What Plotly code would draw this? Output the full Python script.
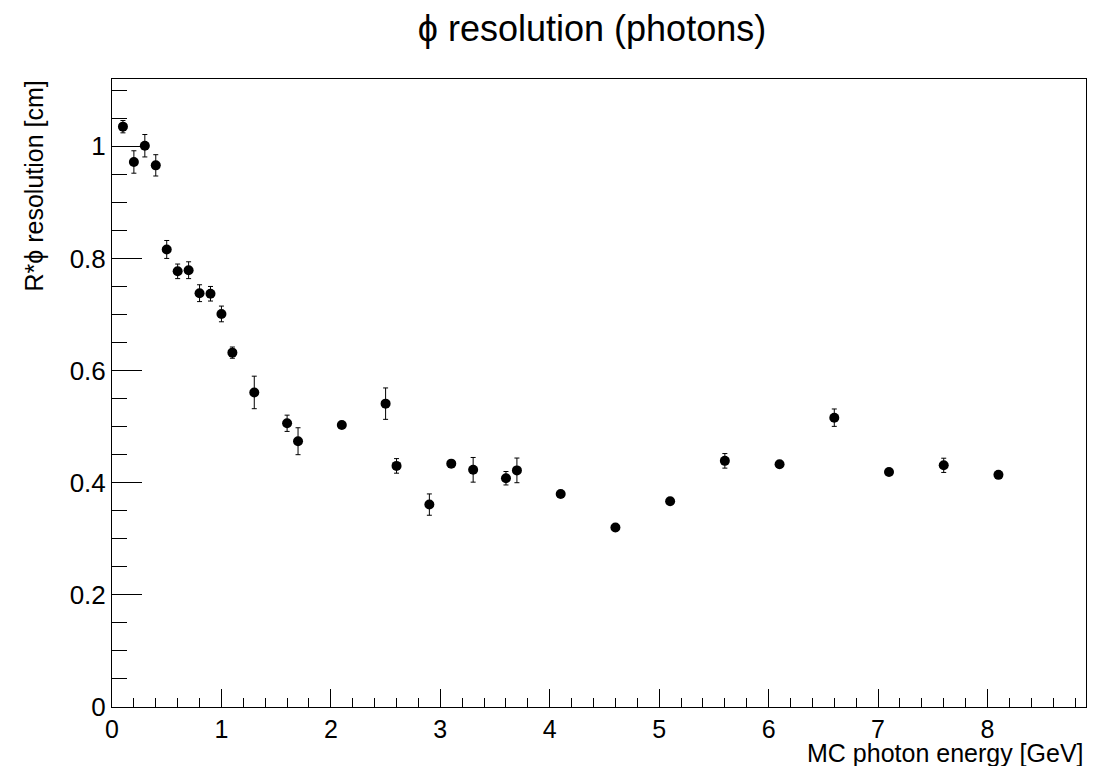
import plotly.graph_objects as go

energy = [0.1, 0.2, 0.3, 0.4, 0.5, 0.6, 0.7, 0.8, 0.9, 1.0, 1.1, 1.3, 1.6, 1.7,
          2.1, 2.5, 2.6, 2.9, 3.1, 3.3, 3.6, 3.7, 4.1, 4.6, 5.1, 5.6, 6.1, 6.6,
          7.1, 7.6, 8.1]
resolution = [1.035, 0.972, 1.001, 0.966, 0.816, 0.777, 0.779, 0.738, 0.737,
              0.701, 0.632, 0.561, 0.506, 0.474, 0.503, 0.541, 0.430, 0.361,
              0.434, 0.423, 0.408, 0.422, 0.380, 0.320, 0.367, 0.439, 0.433,
              0.516, 0.419, 0.431, 0.414]
resolution_err = [0.011, 0.020, 0.020, 0.019, 0.016, 0.013, 0.015, 0.015, 0.013,
                  0.014, 0.010, 0.029, 0.0145, 0.024, 0.004, 0.028, 0.013, 0.019,
                  0.004, 0.022, 0.012, 0.022, 0.004, 0.006, 0.004, 0.013, 0.004,
                  0.0155, 0.004, 0.0127, 0.004]

FONT = "Liberation Sans, Arial, Helvetica, sans-serif"

fig = go.Figure()
fig.add_trace(go.Scatter(
    x=energy, y=resolution, mode="markers",
    marker=dict(symbol="circle", size=10, color="black"),
    error_y=dict(type="data", array=resolution_err, visible=True,
                 color="black", thickness=1, width=2.5),
    showlegend=False,
))

# page has an 8px body margin; figure sized to fit inside the window
W, H = 1095, 758
L, R, T, B = 104, 17, 71, 59
PW, PH = W - L - R, H - T - B

fig.update_layout(
    width=W, height=H,
    margin=dict(l=L, r=R, t=T, b=B, autoexpand=False),
    paper_bgcolor="white", plot_bgcolor="white",
    font=dict(family=FONT, size=25, color="black"),
    title=dict(text="ϕ resolution (photons)", x=584 / W, xanchor="center",
               y=1 - 20 / H, yanchor="middle", yref="container",
               font=dict(family=FONT, size=36, color="black")),
    xaxis=dict(range=[0, 8.9], dtick=1, tick0=0, ticks="inside", ticklen=18,
               tickcolor="black", showline=True, linecolor="black",
               linewidth=1, mirror=True, showgrid=False, zeroline=False,
               tickfont=dict(size=25),
               minor=dict(dtick=0.2, tick0=0, ticks="inside", ticklen=9,
                          tickcolor="black", showgrid=False)),
    yaxis=dict(range=[0, 1.12], dtick=0.2, tick0=0, ticks="inside", ticklen=30,
               tickcolor="black", showline=True, linecolor="black",
               linewidth=1, mirror=True, showgrid=False, zeroline=False,
               tickfont=dict(size=26), tickformat="~g",
               minor=dict(dtick=0.05, tick0=0, ticks="inside", ticklen=15,
                          tickcolor="black", showgrid=False)),
    annotations=[
        dict(text="MC photon energy [GeV]", xref="paper", yref="paper",
             x=1.0, y=-(745 - (H - B)) / PH, xanchor="right",
             yanchor="middle", showarrow=False,
             font=dict(family=FONT, size=25, color="black")),
        dict(text="R*ϕ resolution [cm]", xref="paper", yref="paper",
             x=-(L - 25) / PW, y=1.0, xanchor="center",
             yanchor="top", textangle=-90, showarrow=False,
             font=dict(family=FONT, size=25, color="black")),
    ],
)

fig.write_html("out.html")
